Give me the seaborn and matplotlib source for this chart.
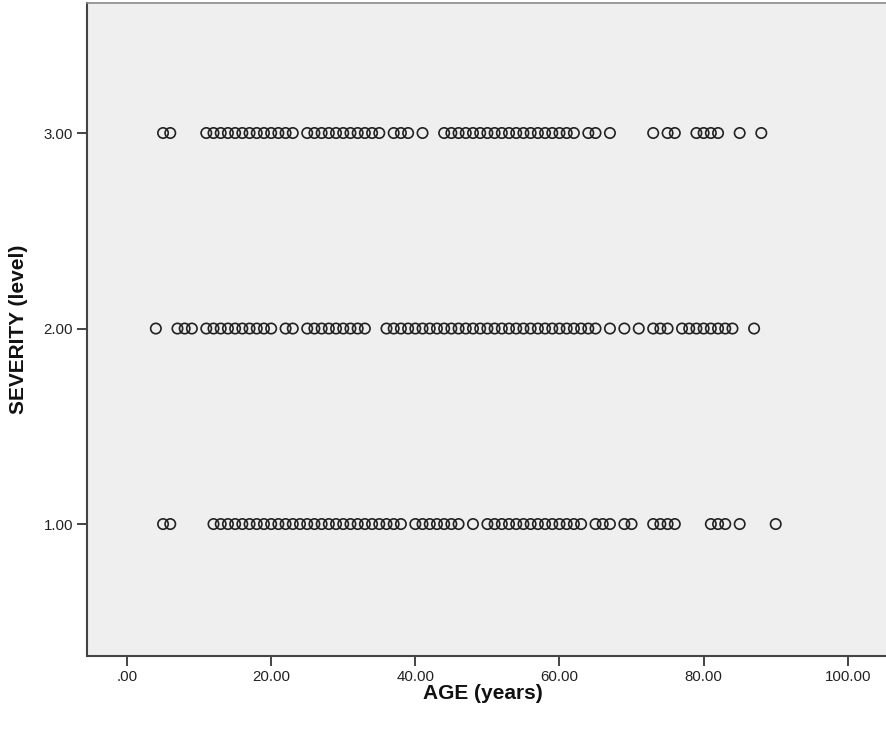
import numpy as np
import pandas as pd
import matplotlib
matplotlib.use("Agg")
import matplotlib.pyplot as plt
import seaborn as sns
from matplotlib.ticker import FuncFormatter

# Ages, one list per severity level
sev3_ages = ([5, 6] + list(range(11, 24)) + list(range(25, 36)) + [37, 38, 39, 41]
             + list(range(44, 63)) + [64, 65, 67, 73, 75, 76, 79, 80, 81, 82, 85, 88])
sev2_ages = ([4, 7, 8, 9] + list(range(11, 21)) + [22, 23] + list(range(25, 34))
             + list(range(36, 66)) + [67, 69, 71, 73, 74, 75]
             + list(range(77, 85)) + [87])
sev1_ages = ([5, 6] + list(range(12, 39)) + list(range(40, 47)) + [48]
             + list(range(50, 64)) + [65, 66, 67, 69, 70, 73, 74, 75, 76,
                                      81, 82, 83, 85, 90])

levels = [3.0, 2.0, 1.0]
x_ticks = [0, 20, 40, 60, 80, 100]
y_ticks = [1.0, 2.0, 3.0]

df = pd.concat([
    pd.DataFrame({"age": sev3_ages, "severity": levels[0]}),
    pd.DataFrame({"age": sev2_ages, "severity": levels[1]}),
    pd.DataFrame({"age": sev1_ages, "severity": levels[2]}),
], ignore_index=True)

sns.set_style("white")
plt.rcParams['font.family'] = ['Liberation Sans', 'DejaVu Sans']

fig = plt.figure(figsize=(8.86, 7.29), dpi=100)
ax = fig.add_axes([0.0982, 0.1001, 0.9018, 0.8958])
ax.set_facecolor("#efefef")

sns.scatterplot(data=df, x="age", y="severity", ax=ax, marker="o", s=56,
                facecolors="none", edgecolor="#222222", linewidth=1.2)

ax.set_xlim(-5.55, 105.3)
ax.set_ylim(0.325, 3.665)
ax.set_xticks(x_ticks)
ax.set_yticks(y_ticks)

def spss_fmt(v, pos):
    s = f"{v:.2f}"
    return s[1:] if s.startswith("0") else s

ax.xaxis.set_major_formatter(FuncFormatter(spss_fmt))
ax.yaxis.set_major_formatter(FuncFormatter(spss_fmt))
ax.tick_params(axis="both", direction="out", length=7, width=1.4, color="#444444",
               labelsize=10.8, labelcolor="#222222", pad=3)
ax.tick_params(bottom=True, left=True)

for side in ["left", "bottom"]:
    ax.spines[side].set_color("#444444")
    ax.spines[side].set_linewidth(1.5)
ax.spines["top"].set_color("#8a8a8a")
ax.spines["top"].set_linewidth(1.2)
ax.spines["right"].set_visible(False)

ax.set_xlabel("AGE (years)", fontsize=15, fontweight="bold", color="#111111")
ax.set_ylabel("SEVERITY (level)", fontsize=15, fontweight="bold", color="#111111")
ax.xaxis.set_label_coords(0.4956, -0.0425)
ax.yaxis.set_label_coords(-0.074, 0.5)
ax.grid(False)

fig.savefig("out.png", dpi=100)
